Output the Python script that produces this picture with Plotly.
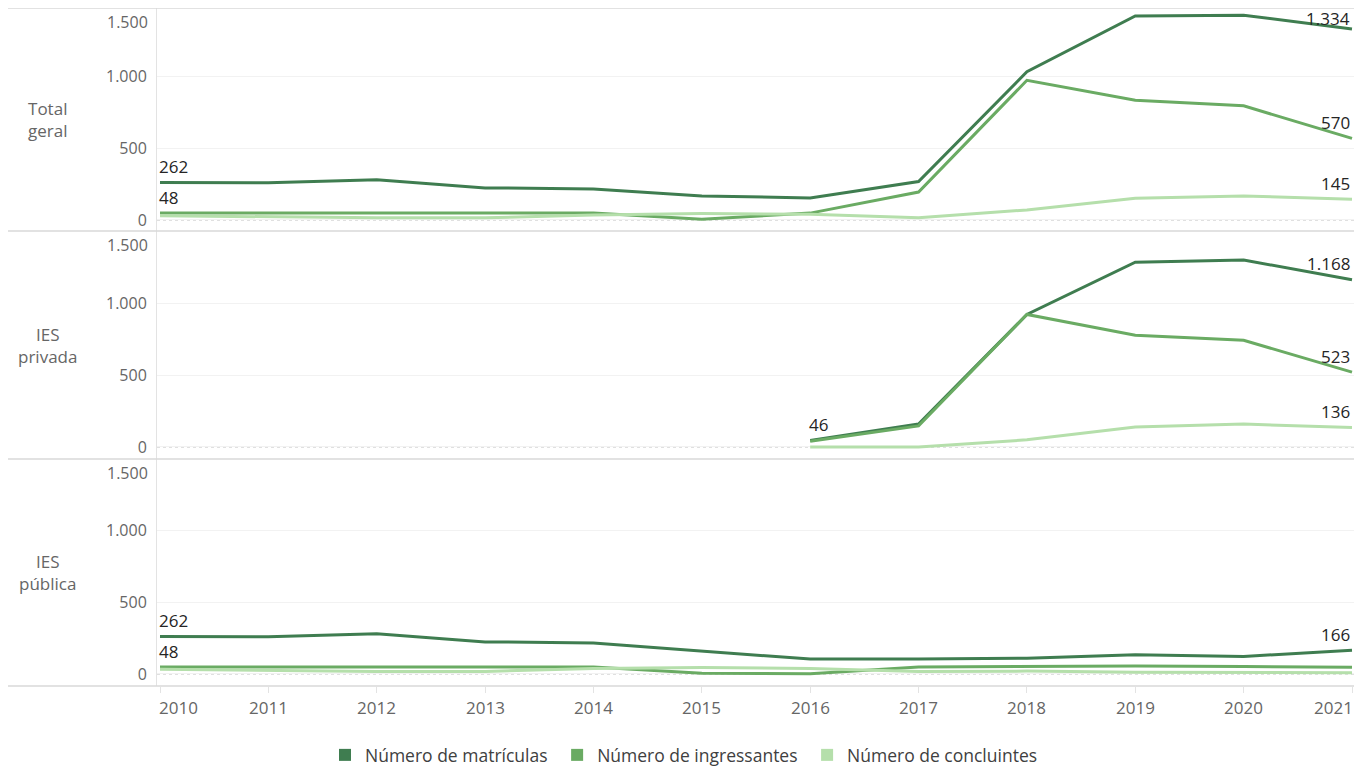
import plotly.graph_objects as go
from plotly.subplots import make_subplots

years = [2010, 2011, 2012, 2013, 2014, 2015, 2016, 2017, 2018, 2019, 2020, 2021]
panels = ["Total<br>geral", "IES<br>privada", "IES<br>pública"]
series_names = ["Número de matrículas", "Número de ingressantes", "Número de concluintes"]

# Total geral
total_matriculas = [262, 260, 280, 224, 217, 168, 154, 268, 1035, 1425, 1430, 1334]
total_ingressantes = [48, 49, 50, 50, 49, 5, 48, 195, 975, 836, 797, 570]
total_concluintes = [30, 22, 15, 15, 35, 45, 40, 15, 70, 152, 168, 145]

# IES privada
priv_matriculas = [None, None, None, None, None, None, 46, 160, 925, 1290, 1305, 1168]
priv_ingressantes = [None, None, None, None, None, None, 40, 147, 925, 780, 745, 523]
priv_concluintes = [None, None, None, None, None, None, 0, 0, 50, 140, 160, 136]

# IES pública
pub_matriculas = [262, 260, 280, 224, 217, 160, 104, 105, 110, 135, 122, 166]
pub_ingressantes = [48, 48, 48, 48, 48, 5, 2, 48, 50, 56, 52, 47]
pub_concluintes = [33, 25, 18, 18, 38, 45, 38, 18, 20, 12, 8, 9]

data = [
    [total_matriculas, total_ingressantes, total_concluintes],
    [priv_matriculas, priv_ingressantes, priv_concluintes],
    [pub_matriculas, pub_ingressantes, pub_concluintes],
]
first_labels = [[0, 1], [0], [0, 1]]
last_labels = [[0, 1, 2], [0, 1, 2], [0]]

colors = ["#3f7d50", "#6aab63", "#b5dfab"]
FONT = "Open Sans"
W, H = 1354, 769
ML, MR, MT, MB = 149, 7, 0, 91
PW = W - ML - MR
PH = H - MT - MB

domains = [[455 / PH, 1.0], [227 / PH, 455 / PH], [0.0, 227 / PH]]
yranges = [[-77, 1480], [-84, 1508], [-84, 1501]]

fig = make_subplots(rows=3, cols=1, shared_xaxes=True, vertical_spacing=0)

def fmt(v):
    return f"{v:,}".replace(",", ".")

annotations = []
for r in range(3):
    for s in range(3):
        fig.add_trace(go.Scatter(
            x=years, y=data[r][s], mode="lines",
            line=dict(color=colors[s], width=3),
            showlegend=False, hoverinfo="skip", connectgaps=False,
        ), row=r + 1, col=1)
    yref = "y" if r == 0 else f"y{r + 1}"
    xref = "x" if r == 0 else f"x{r + 1}"
    for s in first_labels[r]:
        vals = data[r][s]
        i = next(k for k, v in enumerate(vals) if v is not None)
        annotations.append(dict(x=years[i], y=vals[i], xref=xref, yref=yref,
                                text=fmt(vals[i]), showarrow=False, xanchor="left",
                                yanchor="middle", yshift=16, xshift=-3,
                                font=dict(family=FONT, size=17, color="#252525")))
    for s in last_labels[r]:
        vals = data[r][s]
        v = vals[-1]
        annotations.append(dict(x=years[-1], y=v, xref=xref, yref=yref,
                                text=fmt(v), showarrow=False, xanchor="right",
                                yanchor="middle", yshift=10 if v > 1300 else 16,
                                font=dict(family=FONT, size=17, color="#252525")))
    annotations.append(dict(x=-7 / PW, y=1, xref="paper", yref=f"{yref} domain",
                            text="1.500", showarrow=False, xanchor="right",
                            yanchor="top", yshift=-1,
                            font=dict(family=FONT, size=16, color="#666666")))
    annotations.append(dict(x=(39 - ML) / PW, y=sum(domains[r]) / 2, xref="paper",
                            yref="paper", text=panels[r], showarrow=False,
                            xanchor="center", yanchor="middle", align="center",
                            font=dict(family=FONT, size=17, color="#666666")))

for i, yr in enumerate(years):
    anchor = "left" if i == 0 else ("right" if i == len(years) - 1 else "center")
    annotations.append(dict(x=yr, y=0, xref="x3", yref="paper", text=str(yr),
                            showarrow=False, xanchor=anchor, yanchor="middle",
                            yshift=-21, xshift=(-3 if i == 0 else (3 if i == len(years) - 1 else 0)),
                            font=dict(family=FONT, size=17, color="#666666")))

for s in range(3):
    fig.add_trace(go.Scatter(x=[None], y=[None], mode="markers",
                             name=series_names[s] + "\u00a0",
                             marker=dict(symbol="square", size=14, color=colors[s]),
                             showlegend=True), row=3, col=1)

xr = [2010 - 3 / 108.36, 2021 + 3 / 108.36]
for r in range(1, 4):
    fig.update_xaxes(range=xr, showgrid=False, zeroline=False, showline=False,
                     tickvals=years, showticklabels=False,
                     ticks="outside" if r == 3 else "", ticklen=6,
                     tickcolor="#e3e3e3", row=r, col=1)
    fig.update_yaxes(range=yranges[r - 1], domain=domains[r - 1],
                     tickvals=[0, 500, 1000],
                     ticktext=["0", "500", "1.000"], showgrid=True,
                     gridcolor="#f2f2f2", gridwidth=1, zeroline=False,
                     showline=True, linecolor="#e3e3e3", linewidth=1,
                     tickfont=dict(family=FONT, size=16, color="#666666"),
                     ticks="", ticklabelstandoff=6, row=r, col=1)

shapes = []
for yp in [1.0, domains[1][1], domains[2][1], 0.0]:
    shapes.append(dict(type="line", xref="paper", yref="paper",
                       x0=-(ML + 8) / PW, x1=1.0, y0=yp, y1=yp,
                       line=dict(color="#d9d9d9", width=1.5)))
for r in range(3):
    yref = "y" if r == 0 else f"y{r + 1}"
    shapes.append(dict(type="line", xref="paper", yref=yref, x0=0, x1=1, y0=0, y1=0,
                       line=dict(color="#bdbdbd", width=1, dash="dot"), layer="below"))

fig.update_layout(
    width=W, height=H,
    margin=dict(l=ML, r=MR, t=MT, b=MB),
    plot_bgcolor="white", paper_bgcolor="white",
    separators=",.",
    font=dict(family=FONT, size=16, color="#444444"),
    annotations=annotations,
    shapes=shapes,
    legend=dict(orientation="h", x=(325 - ML - 8) / PW, xanchor="left",
                y=-69 / PH, yanchor="middle",
                font=dict(family=FONT, size=17.5, color="#404040"),
                itemsizing="constant", bgcolor="rgba(0,0,0,0)"),
)

fig.write_html("out.html")
